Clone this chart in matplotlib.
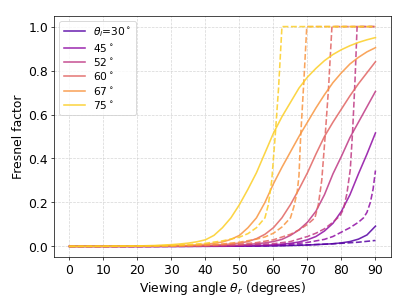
import matplotlib
matplotlib.use("Agg")
import matplotlib.pyplot as plt
import numpy as np

plt.rcParams['font.size'] = 14

# incidence angles (degrees)
theta_i = [30, 45, 52, 60, 67, 75]

# Solid curves: common viewing-angle grid
angles_solid = [0, 10, 20, 25, 30, 32.5, 35, 37.5, 40, 42.5, 45, 47.5, 50, 52.5, 55,
                57.5, 60, 62.5, 65, 67.5, 70, 72.5, 75, 77.5, 80, 82.5, 85, 87.5, 90]

solid_30 = [0, 0, 0, 0, 0, 0, 0, 0.0002, 0.0003, 0.0005, 0.0006, 0.0008, 0.001, 0.0012, 0.0015,
            0.002, 0.0025, 0.003, 0.004, 0.005, 0.006, 0.008, 0.01, 0.012, 0.016, 0.022, 0.033, 0.052, 0.092]
solid_45 = [0, 0, 0, 0, 0.0003, 0.0004, 0.0005, 0.0007, 0.0009, 0.0012, 0.0015, 0.0018, 0.002, 0.003, 0.004,
            0.005, 0.007, 0.01, 0.014, 0.02, 0.03, 0.045, 0.07, 0.105, 0.16, 0.235, 0.33, 0.42, 0.516]
solid_52 = [0, 0, 0, 0.0003, 0.0005, 0.0006, 0.0008, 0.001, 0.0015, 0.002, 0.003, 0.004, 0.006, 0.009, 0.012,
            0.016, 0.022, 0.032, 0.05, 0.075, 0.11, 0.16, 0.235, 0.33, 0.41, 0.495, 0.565, 0.635, 0.705]
solid_60 = [0, 0, 0.0003, 0.0006, 0.001, 0.0013, 0.0017, 0.0025, 0.004, 0.006, 0.008, 0.011, 0.015, 0.022, 0.035,
            0.055, 0.085, 0.13, 0.19, 0.26, 0.335, 0.42, 0.5, 0.565, 0.625, 0.685, 0.74, 0.79, 0.84]
solid_67 = [0, 0, 0.001, 0.0015, 0.003, 0.004, 0.005, 0.007, 0.01, 0.014, 0.02, 0.032, 0.05, 0.085, 0.13,
            0.2, 0.285, 0.36, 0.43, 0.5, 0.565, 0.63, 0.69, 0.745, 0.79, 0.83, 0.86, 0.885, 0.904]
solid_75 = [0, 0.0005, 0.002, 0.004, 0.008, 0.011, 0.015, 0.021, 0.03, 0.05, 0.085, 0.13, 0.19, 0.26, 0.335,
            0.425, 0.515, 0.59, 0.655, 0.72, 0.77, 0.81, 0.845, 0.873, 0.895, 0.913, 0.928, 0.94, 0.95]

# Dashed curves: each with its own viewing-angle grid
angles_dash_30 = [0, 20, 40, 50, 60, 70, 75, 80, 85, 90]
dash_30 = [0, 0, 0.0005, 0.001, 0.003, 0.007, 0.01, 0.014, 0.019, 0.027]

angles_dash_45 = [0, 20, 40, 50, 60, 65, 70, 75, 77.5, 80, 82.5, 85, 86.5, 87.5, 88.5, 89.3, 90]
dash_45 = [0, 0, 0.001, 0.002, 0.006, 0.01, 0.018, 0.032, 0.045, 0.065, 0.085, 0.11, 0.13, 0.155, 0.2, 0.26, 0.345]

angles_dash_52 = [0, 20, 40, 50, 60, 65, 70, 72.5, 75, 77.5, 79.6, 80.6, 81.6, 82.6, 83.3, 84, 84.6, 90]
dash_52 = [0, 0, 0.002, 0.005, 0.012, 0.022, 0.045, 0.06, 0.08, 0.11, 0.14, 0.17, 0.24, 0.35, 0.53, 0.76, 1.0, 1.0]

angles_dash_60 = [0, 20, 30, 40, 50, 55, 60, 65, 67.5, 70, 72.2, 73.2, 74.2, 75.2, 76.2, 77.2, 90]
dash_60 = [0, 0, 0.001, 0.004, 0.01, 0.017, 0.03, 0.055, 0.075, 0.1, 0.13, 0.19, 0.3, 0.5, 0.72, 1.0, 1.0]

angles_dash_67 = [0, 20, 30, 40, 45, 50, 55, 57.5, 60, 62.5, 65, 66, 67, 67.5, 68, 68.9, 69.8, 90]
dash_67 = [0, 0.0005, 0.002, 0.006, 0.011, 0.019, 0.033, 0.043, 0.06, 0.088, 0.13, 0.18, 0.25, 0.32, 0.5, 0.74, 1.0, 1.0]

angles_dash_75 = [0, 10, 20, 30, 35, 40, 45, 50, 52.5, 55, 57.5, 58.5, 59.5, 60.5, 61.5, 62.5, 90]
dash_75 = [0, 0.0005, 0.001, 0.004, 0.008, 0.014, 0.025, 0.042, 0.058, 0.085, 0.13, 0.19, 0.3, 0.5, 0.72, 1.0, 1.0]

solids = [solid_30, solid_45, solid_52, solid_60, solid_67, solid_75]
dashed = [(angles_dash_30, dash_30), (angles_dash_45, dash_45), (angles_dash_52, dash_52),
          (angles_dash_60, dash_60), (angles_dash_67, dash_67), (angles_dash_75, dash_75)]

labels = [r"$\theta_i$=30$^\circ$", r"45$^\circ$", r"52$^\circ$", r"60$^\circ$", r"67$^\circ$", r"75$^\circ$"]

colors = plt.cm.plasma(np.linspace(0.15, 0.9, len(theta_i)))

fig, ax = plt.subplots(figsize=(6.4, 4.8), dpi=63.6)
fig.subplots_adjust(left=0.133, right=0.96, bottom=0.156, top=0.948)

for c, ys, (xd, yd), lab in zip(colors, solids, dashed, labels):
    ax.plot(angles_solid, ys, color=c, lw=1.8, alpha=0.85, label=lab)
    ax.plot(xd, yd, color=c, lw=1.8, alpha=0.85, ls='--')

ax.set_xticks(np.arange(0, 91, 10))
ax.set_yticks(np.arange(0, 1.01, 0.2))
ax.grid(True, ls='--', color='#cccccc', alpha=0.8)
ax.set_xlabel(r"Viewing angle $\theta_r$ (degrees)")
ax.set_ylabel("Fresnel factor")
ax.legend(loc='upper left', fontsize=12, labelspacing=0.22)

fig.savefig("out.png", dpi=63.6)
